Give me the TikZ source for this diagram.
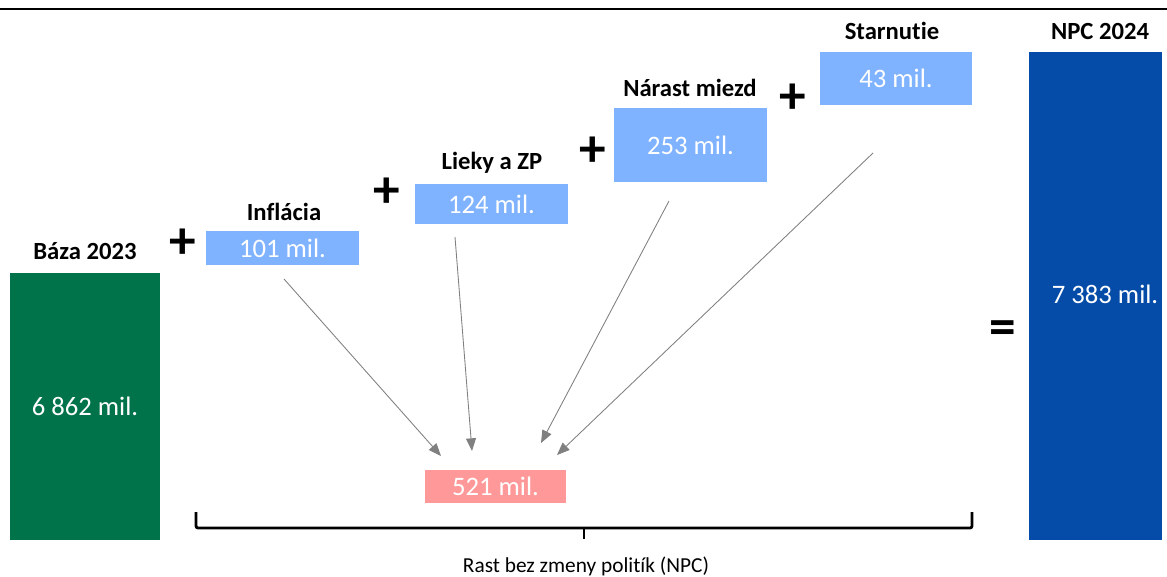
\documentclass[tikz,border=0pt]{standalone}
\usepackage{fontspec}
\setmainfont[RawFeature=-liga]{Carlito}
\usetikzlibrary{arrows.meta,positioning}
\definecolor{basegreen}{HTML}{00734A}
\definecolor{npcblue}{HTML}{054BA8}
\definecolor{steplight}{HTML}{7FB2FF}
\definecolor{sumred}{HTML}{FF9999}
\definecolor{arrowgray}{HTML}{808080}
\tikzset{
  head/.style={font=\bfseries\fontsize{18.5}{20}\selectfont,text=black},
  value/.style={font=\fontsize{20}{22}\selectfont,text=white},
  bar/.style={inner sep=0pt,outer sep=0pt,value},
  stepbox/.style={bar,fill=steplight,minimum width=153*0.75pt},
  opsign/.style={font=\bfseries\fontsize{40}{40}\selectfont,inner sep=0pt},
  flow/.style={-{Triangle[length=9.5pt,width=7.5pt]},draw=arrowgray,line width=0.65pt},
  bracket/.style={draw=black,line width=2.1pt,rounded corners=1.5pt},
  caption/.style={font=\fontsize{16}{18}\selectfont,text=black}
}
\begin{document}
\begin{tikzpicture}[x=0.75pt,y=-0.75pt]
\path[use as bounding box] (0,0) rectangle (1167,576);
\draw[line width=1.3pt] (0,9)--(1167,9);
% baza a vysledok
\node[bar,fill=basegreen,minimum width=150*0.75pt,minimum height=267*0.75pt] (base) at (85,406.5) {6 862 mil.};
\node[head] (lbase) at (85,251) {Báza 2023};
\node[bar,fill=npcblue,minimum width=133*0.75pt,minimum height=488*0.75pt] (npc) at (1095.5,296) {};
\node[value] (vnpc) at (1105,294) {7 383 mil.};
\node[head] (lnpc) at (1100,31) {NPC 2024};
% jednotlive prirastky
\node[stepbox,minimum height=34*0.75pt] (infl) at (282.5,248) {101 mil.};
\node[head] (linfl) at (284,212) {Inflácia};
\node[stepbox,minimum height=40*0.75pt] (drugs) at (491.5,204) {124 mil.};
\node[head] (ldrugs) at (492,163) {Lieky a ZP};
\node[stepbox,minimum height=74*0.75pt] (wages) at (690.5,145) {253 mil.};
\node[head] (lwages) at (690,88) {Nárast miezd};
\node[stepbox,minimum width=152*0.75pt,minimum height=53*0.75pt] (aging) at (896,78.5) {43 mil.};
\node[head] (laging) at (892,31) {Starnutie};
\node[opsign] (p1) at (183,244) {+}; \node[opsign] (p2) at (387,193) {+}; \node[opsign] (p3) at (593,152) {+}; \node[opsign] (p4) at (793,99) {+};
\node[opsign] (eq) at (1003,333) {=};
% sucet
\node[bar,fill=sumred,minimum width=141*0.75pt,minimum height=33*0.75pt] (total) at (495.5,486.5) {521 mil.};
\coordinate (s1) at (284,279); \coordinate (s2) at (455,237); \coordinate (s3) at (669,201); \coordinate (s4) at (873,153);
\coordinate (e1) at (441,456); \coordinate (e2) at (472,451); \coordinate (e3) at (541,443); \coordinate (e4) at (557,455);
\draw[flow] (s1)--(e1); \draw[flow] (s2)--(e2); \draw[flow] (s3)--(e3); \draw[flow] (s4)--(e4);
\draw[bracket] (196,512) |- (972,528) -- (972,512);
\draw[bracket,rounded corners=0pt] (584,528)--(584,539);
\node[caption] (cap) at (586,566) {Rast bez zmeny politík (NPC)};
\end{tikzpicture}
\end{document}
